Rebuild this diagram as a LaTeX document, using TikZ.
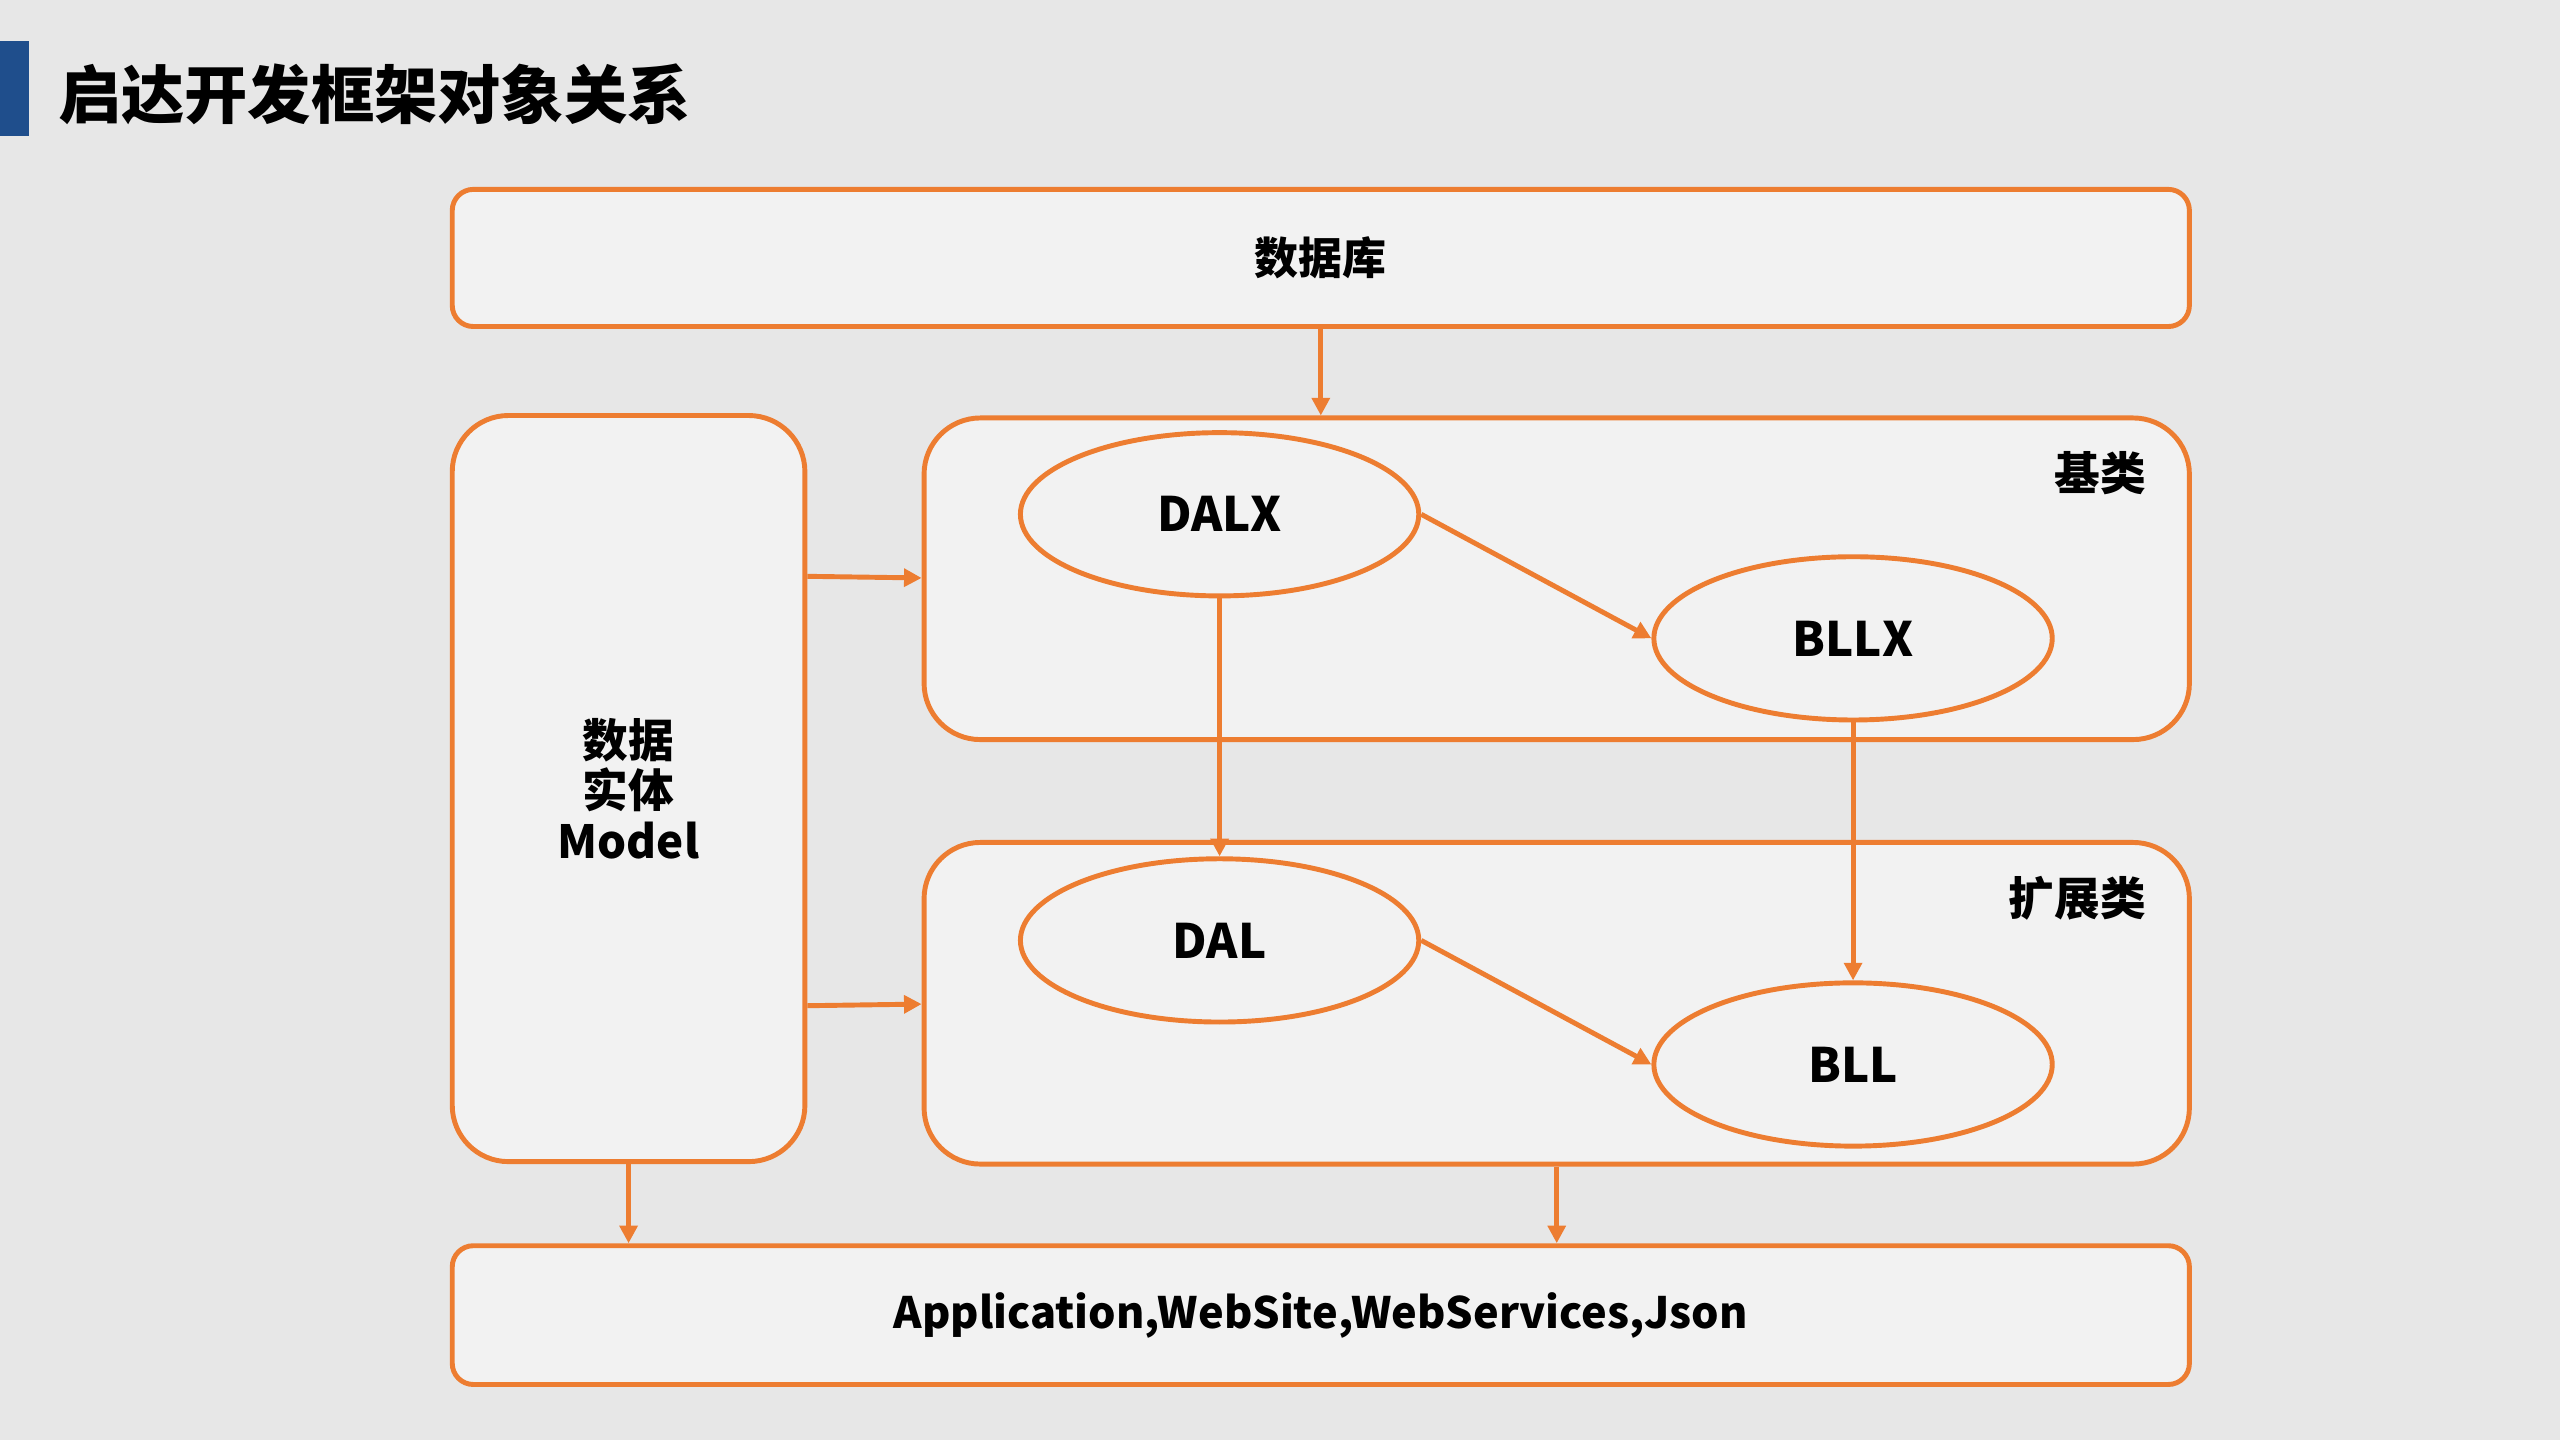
\documentclass[tikz,border=0pt]{standalone}
\usepackage{fontspec}
\setmainfont{Noto Sans CJK SC}
\usetikzlibrary{shapes.geometric, arrows.meta, positioning}
\definecolor{bgc}{HTML}{E7E7E7}
\definecolor{boxc}{HTML}{F2F2F2}
\definecolor{orc}{HTML}{ED7D31}
\definecolor{bluec}{HTML}{1F4E8C}
\newcommand\px{0.016327cm}
\tikzset{
  x=0.016327cm, y=-0.016327cm,
  box/.style={draw=orc, fill=boxc, line width=1.4pt, rounded corners=6pt, font=\fontsize{12.5}{15}\selectfont\bfseries}, % flat boxes
  group/.style={box, rounded corners=16pt}, % tall boxes
  oval/.style={draw=orc, fill=boxc, line width=1.4pt, ellipse, minimum width={244*\px}, minimum height={100*\px}, font=\fontsize{13.5}{16}\selectfont\bfseries},
  link/.style={draw=orc, line width=1.4pt, -{Triangle[length=5pt,width=5pt]}},
}
\begin{document}
\begin{tikzpicture}
  \fill[bgc] (0,0) rectangle (1568,882);
  \useasboundingbox (0,0) rectangle (1568,882);
  % Title
  \fill[bluec] (0,25) rectangle (18,83);
  \node[anchor=west, font=\fontsize{18}{20}\selectfont\bfseries] (title) at (28,58) {启达开发框架对象关系};

  % Boxes
  \node[box, minimum width={1064*\px}, minimum height={84*\px}] (db) at (809,158) {数据库};
  \node[group, minimum width={216*\px}, minimum height={457*\px}, align=center,
        font=\fontsize{13}{14.4}\selectfont\bfseries] (model) at (385,483) {数据\\实体\\Model};
  \node[group, minimum width={775*\px}, minimum height={197*\px}] (base) at (953.5,354.5) {};
  \node[group, minimum width={775*\px}, minimum height={197*\px}] (ext) at (953.5,614.5) {};
  \node[box, minimum width={1064*\px}, minimum height={85*\px}, font=\fontsize{12.3}{15}\selectfont\bfseries] (app) at (809,805.5) {Application,WebSite,WebServices,Json};
  \node[anchor=east, font=\fontsize{13}{15}\selectfont\bfseries] (baselbl) at (1322,290) {基类};
  \node[anchor=east, font=\fontsize{13}{15}\selectfont\bfseries] (extlbl) at (1322,550) {扩展类};

  % Ellipses
  \node[oval] (dalx) at (747,315) {DALX};
  \node[oval] (bllx) at (1135,391) {BLLX};
  \node[oval] (dal) at (747,576) {DAL};
  \node[oval] (bll) at (1135,652) {BLL};

  % Links
  \draw[link] (db.south) -- (db.south |- base.north);
  \draw[link] (model.east |- 0,353) -- (base.west |- 0,354);
  \draw[link] (model.east |- 0,616) -- (ext.west |- 0,615);
  \draw[link] (dalx.east) -- (bllx.west);
  \draw[link] (dal.east) -- (bll.west);
  \draw[link] (dalx.south) -- (dal.north);
  \draw[link] (bllx.south) -- (bll.north);
  \draw[link] (model.south) -- (model.south |- app.north);
  \draw[link] (ext.south) -- (ext.south |- app.north);
\end{tikzpicture}
\end{document}
